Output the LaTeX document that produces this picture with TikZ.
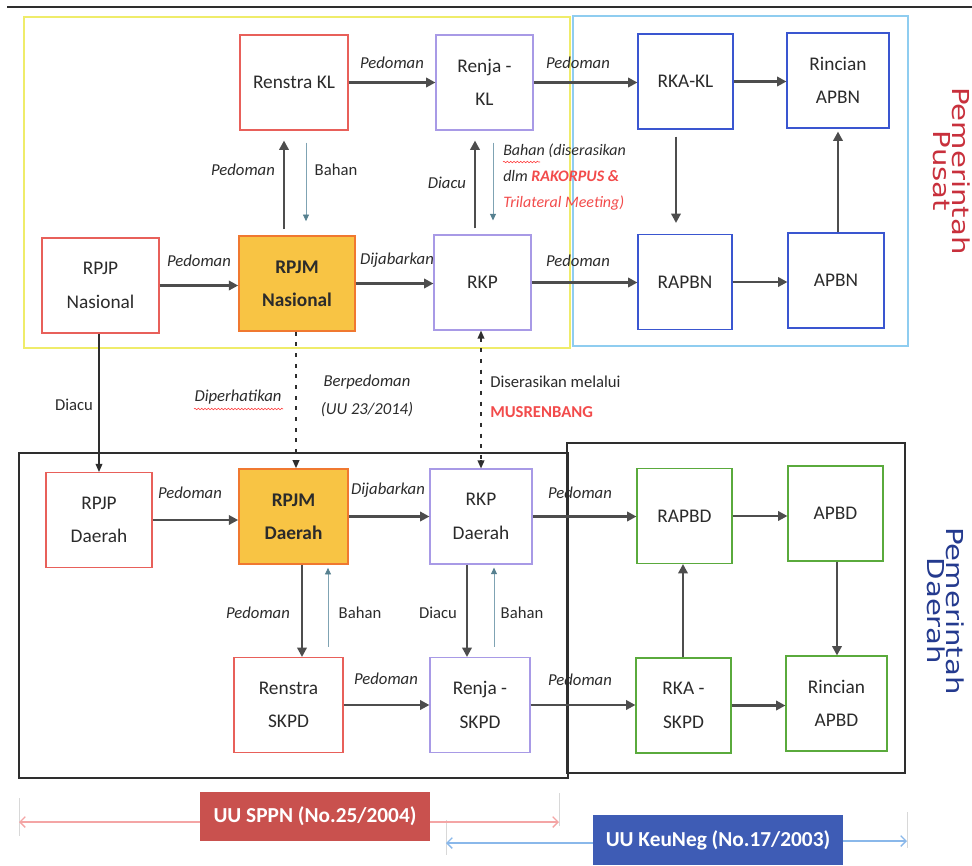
\documentclass[tikz,border=0pt]{standalone}
\usepackage{fontspec}
\usepackage{graphicx}
\setmainfont{Carlito}
\newfontfamily\dejavu{DejaVu Sans}
\usetikzlibrary{arrows.meta,calc,decorations.pathmorphing}
\definecolor{txt}{HTML}{2B2B2B}
\definecolor{arrc}{HTML}{4D4D4D}
\definecolor{bred}{HTML}{E8605A}
\definecolor{bpur}{HTML}{A89AE6}
\definecolor{bblue}{HTML}{3A56D0}
\definecolor{bgreen}{HTML}{5AAA3C}
\definecolor{gold}{HTML}{F8C444}
\definecolor{oborder}{HTML}{F07830}
\definecolor{yel}{HTML}{EFEC6A}
\definecolor{lblue}{HTML}{8FCDF0}
\definecolor{dk}{HTML}{2E2E2E}
\definecolor{tealc}{HTML}{7FA3B3}
\definecolor{tealh}{HTML}{56808F}
\definecolor{rred}{HTML}{F24B4B}
\definecolor{pred}{HTML}{C8303C}
\definecolor{pnavy}{HTML}{243A8E}
\definecolor{sppn}{HTML}{C9514E}
\definecolor{keu}{HTML}{3E5CB5}
\definecolor{redline}{HTML}{F4A5A5}
\definecolor{blueline}{HTML}{8AB8EA}
\definecolor{tickc}{HTML}{D8D8D8}
\begin{document}
\begin{tikzpicture}[x=0.75pt,y=-0.75pt,
  box/.style={draw, line width=0.8pt, inner sep=2pt, align=center,
    font=\fontsize{14.5}{25}\selectfont, text=txt, minimum height=71.25pt},
  redbox/.style={box, draw=bred},
  purbox/.style={box, draw=bpur},
  blubox/.style={box, draw=bblue},
  grnbox/.style={box, draw=bgreen},
  orabox/.style={box, draw=oborder, fill=gold, line width=1.2pt,
    font=\fontsize{14.5}{25}\selectfont\bfseries},
  arr/.style={draw=arrc, line width=2pt, -{Triangle[length=7pt,width=7pt]}},
  thinarr/.style={draw=tealc, line width=0.6pt, -{Triangle[length=5pt,width=4.5pt,color=tealh]}},
  thinblk/.style={draw=dk, line width=0.9pt, -{Triangle[length=6pt,width=5pt]}},
  dsh/.style={draw=dk, line width=1.1pt, dash pattern=on 3pt off 5pt},
  lbl/.style={font=\fontsize{12.5}{15}\selectfont\itshape, text=txt, inner sep=0pt},
  lblu/.style={font=\fontsize{12.5}{15}\selectfont, text=txt, inner sep=0pt},
  wavy/.style={draw=red!80, line width=0.4pt, decorate,
    decoration={snake, amplitude=0.6pt, segment length=2.5pt}}
]
\useasboundingbox (0,0) rectangle (972,865);

% top rule and containers
\draw[dk, line width=1.5pt] (7,7) -- (972,7);
\draw[yel, line width=0.9pt] (24,17) rectangle (570,348);
\draw[lblue, line width=0.9pt] (573,16) rectangle (908,346);
\draw[dk, line width=1.2pt] (19,453) rectangle (568,778);
\draw[dk, line width=1.2pt] (567,443) rectangle (905,773);

% top row
\node[redbox, minimum width=81pt] (renstrakl) at (294,82.5) {Renstra KL};
\node[purbox, minimum width=72.75pt] (renjakl) at (484.5,82.5) {Renja -\\KL};
\node[blubox, minimum width=71.25pt] (rkakl) at (685.5,81.5) {RKA-KL};
\node[blubox, minimum width=76.5pt] (rincianapbn) at (838,80.5) {Rincian\\APBN};
% second row
\node[redbox, minimum width=87.75pt] (rpjpnas) at (100.5,285.5) {RPJP\\Nasional};
\node[orabox, minimum width=87pt] (rpjmnas) at (297,283.5) {RPJM\\Nasional};
\node[purbox, minimum width=72.75pt] (rkp) at (482.5,282.5) {RKP};
\node[blubox, minimum width=70.5pt] (rapbn) at (685,282) {RAPBN};
\node[blubox, minimum width=72pt] (apbn) at (836,280.5) {APBN};
% third row
\node[redbox, minimum width=79.5pt] (rpjpd) at (99,520) {RPJP\\Daerah};
\node[orabox, minimum width=81.75pt] (rpjmd) at (293.5,516.5) {RPJM\\Daerah};
\node[purbox, minimum width=76.5pt] (rkpd) at (481,516.5) {RKP\\Daerah};
\node[grnbox, minimum width=71.25pt] (rapbd) at (684.5,516) {RAPBD};
\node[grnbox, minimum width=71.25pt] (apbd) at (835.5,513.5) {APBD};
% fourth row
\node[redbox, minimum width=81.75pt] (renstraskpd) at (288.5,705) {Renstra\\SKPD};
\node[purbox, minimum width=75pt] (renjaskpd) at (480,705) {Renja -\\SKPD};
\node[grnbox, minimum width=71.25pt] (rkaskpd) at (683.5,705.5) {RKA -\\SKPD};
\node[grnbox, minimum width=75.75pt] (rincianapbd) at (836.5,703.5) {Rincian\\APBD};

% horizontal arrows
\draw[arr] (renstrakl.east) -- (renstrakl.east -| renjakl.west);
\draw[arr] (renjakl.east) -- (renjakl.east -| rkakl.west);
\draw[arr] (rkakl.east) -- (rkakl.east -| rincianapbn.west);
\draw[arr] (rpjpnas.east) -- (rpjpnas.east -| rpjmnas.west);
\draw[arr] (rpjmnas.east) -- (rpjmnas.east -| rkp.west);
\draw[arr] (rkp.east) -- (rkp.east -| rapbn.west);
\draw[arr] (rapbn.east) -- (rapbn.east -| apbn.west);
\draw[arr] (rpjpd.east) -- (rpjpd.east -| rpjmd.west);
\draw[arr] (rpjmd.east) -- (rpjmd.east -| rkpd.west);
\draw[arr] (rkpd.east) -- (rkpd.east -| rapbd.west);
\draw[arr] (rapbd.east) -- (rapbd.east -| apbd.west);
\draw[arr] (renstraskpd.east) -- (renstraskpd.east -| renjaskpd.west);
\draw[arr] (renjaskpd.east) -- (renjaskpd.east -| rkaskpd.west);
\draw[arr] (rkaskpd.east) -- (rkaskpd.east -| rincianapbd.west);

% vertical arrow columns
\coordinate (v1) at (284,0);
\coordinate (v2) at (306,0);
\coordinate (v3) at (475,0);
\coordinate (v4) at (493,0);
\coordinate (v5) at (676,0);
\coordinate (v6) at (838,0);
\coordinate (v7) at (302,0);
\coordinate (v8) at (328,0);
\coordinate (v9) at (467,0);
\coordinate (v10) at (494,0);
\coordinate (v11) at (683,0);
\coordinate (v12) at (837,0);
\coordinate (v13) at (99,0);
\coordinate (v14) at (296,0);
\coordinate (v15) at (481,0);

\draw[arr] ($(rpjmnas.north -| v1)+(0,-6)$) -- ($(renstrakl.south -| v1)+(0,10)$);
\draw[thinarr] ($(renstrakl.south -| v2)+(0,12)$) -- ($(rpjmnas.north -| v2)+(0,-14)$);
\draw[arr] ($(rkp.north -| v3)+(0,-6)$) -- ($(renjakl.south -| v3)+(0,10)$);
\draw[thinarr] ($(renjakl.south -| v4)+(0,12)$) -- ($(rkp.north -| v4)+(0,-14)$);
\draw[arr] ($(rkakl.south -| v5)+(0,7)$) -- ($(rapbn.north -| v5)+(0,-11)$);
\draw[arr] (apbn.north -| v6) -- ($(rincianapbn.south -| v6)+(0,3)$);

\draw[arr] (rpjmd.south -| v7) -- (renstraskpd.north -| v7);
\draw[thinarr] ($(renstraskpd.north -| v8)+(0,-10)$) -- ($(rpjmd.south -| v8)+(0,3)$);
\draw[arr] (rkpd.south -| v9) -- (renjaskpd.north -| v9);
\draw[thinarr] ($(renjaskpd.north -| v10)+(0,-10)$) -- ($(rkpd.south -| v10)+(0,3)$);
\draw[arr] (rkaskpd.north -| v11) -- (rapbd.south -| v11);
\draw[arr] (apbd.south -| v12) -- (rincianapbd.north -| v12);

% links between levels
\draw[thinblk] (rpjpnas.south -| v13) -- (rpjpd.north -| v13);
\draw[dsh] (rpjmnas.south -| v14) -- ($(rpjmd.north -| v14)+(0,-6)$);
\draw[draw=dk, line width=1.1pt, -{Triangle[length=6pt,width=5pt]}] ($(rpjmd.north -| v14)+(0,-7)$) -- (rpjmd.north -| v14);
\draw[dsh] ($(rkp.south -| v15)+(0,7)$) -- ($(rkpd.north -| v15)+(0,-7)$);
\draw[draw=dk, line width=1.1pt, -{Triangle[length=6pt,width=5pt]}] ($(rkp.south -| v15)+(0,8)$) -- (rkp.south -| v15);
\draw[draw=dk, line width=1.1pt, -{Triangle[length=6pt,width=5pt]}] ($(rkpd.north -| v15)+(0,-8)$) -- (rkpd.north -| v15);

% labels top
\node[lbl] (l1) at (392,63) {Pedoman};
\node[lbl] (l2) at (578,63) {Pedoman};
\node[lbl] (l3) at (243,170) {Pedoman};
\node[lblu] (l4) at (336,170) {Bahan};
\node[lbl] (l5) at (447,183) {Diacu};
\node[lbl, align=left, anchor=north west, font=\fontsize{12}{19.5}\selectfont\itshape] (l6) at (503,144)
  {Bahan (diserasikan\\dlm {\color{rred}\bfseries RAKORPUS \&}\\{\color{rred}Trilateral Meeting)}};
\draw[wavy] (503,162) -- (540,162);
\node[lbl] (l7) at (199,261) {Pedoman};
\node[lbl] (l8) at (397,260) {Dijabarkan};
\node[lbl] (l9) at (578,261) {Pedoman};
% labels middle
\node[lblu] (l10) at (74,405) {Diacu};
\node[lbl] (l11) at (238,397) {Diperhatikan};
\draw[wavy] (194,409) -- (283,409);
\node[lbl, align=center, font=\fontsize{12.5}{21}\selectfont\itshape] (l12) at (367,396) {Berpedoman\\(UU 23/2014)};
\node[lblu, align=left, anchor=west, font=\fontsize{12.5}{22.5}\selectfont] (l13) at (490,397)
  {Diserasikan melalui\\{\color{rred}\bfseries MUSRENBANG}};
% labels bottom
\node[lbl] (l14) at (190,493) {Pedoman};
\node[lbl] (l15) at (388,490) {Dijabarkan};
\node[lbl] (l16) at (580,493) {Pedoman};
\node[lbl] (l17) at (258,613) {Pedoman};
\node[lblu] (l18) at (360,613) {Bahan};
\node[lblu] (l19) at (438,613) {Diacu};
\node[lblu] (l20) at (522,613) {Bahan};
\node[lbl] (l21) at (386,679) {Pedoman};
\node[lbl] (l22) at (580,680) {Pedoman};

% side titles
\node[rotate=-90, text=pred, align=center, inner sep=0pt,
  font=\dejavu\fontsize{17.5}{14.5}\selectfont] (pusat) at (951.5,171)
  {\scalebox{1.25}[1]{Pemerintah}\\\scalebox{1.25}[1]{Pusat}};
\node[rotate=-90, text=pnavy, align=center, inner sep=0pt,
  font=\dejavu\fontsize{17.5}{14.5}\selectfont] (daerah) at (946,611)
  {\scalebox{1.25}[1]{Pemerintah}\\\scalebox{1.25}[1]{Daerah}};

% legend
\draw[tickc, line width=0.5pt] (19,798) -- (19,836);
\draw[tickc, line width=0.5pt] (559,793) -- (559,826);
\draw[tickc, line width=0.5pt] (446,820) -- (446,855);
\draw[tickc, line width=0.5pt] (907,812) -- (907,848);
\node[fill=sppn, text=white, inner sep=0pt, minimum width=172.5pt, minimum height=36.75pt,
  font=\fontsize{16}{18}\selectfont\bfseries] (sppn) at (315,816.5) {UU SPPN (No.25/2004)};
\node[fill=keu, text=white, inner sep=0pt, minimum width=187.5pt, minimum height=37.5pt,
  font=\fontsize{16}{18}\selectfont\bfseries] (keu) at (718,840) {UU KeuNeg (No.17/2003)};
\coordinate (r1) at (19,822);
\coordinate (r2) at (559,822);
\coordinate (b1) at (446,843);
\coordinate (b2) at (907,841);
\draw[redline, line width=1pt, {Straight Barb[length=4pt,width=8pt]}-] (r1) -- (sppn.west |- r1);
\draw[redline, line width=1pt, -{Straight Barb[length=4pt,width=8pt]}] (sppn.east |- r2) -- (r2);
\draw[blueline, line width=1pt, {Straight Barb[length=4pt,width=8pt]}-] (b1) -- (keu.west |- b1);
\draw[blueline, line width=1pt, -{Straight Barb[length=4pt,width=8pt]}] (keu.east |- b2) -- (b2);
\end{tikzpicture}
\end{document}
